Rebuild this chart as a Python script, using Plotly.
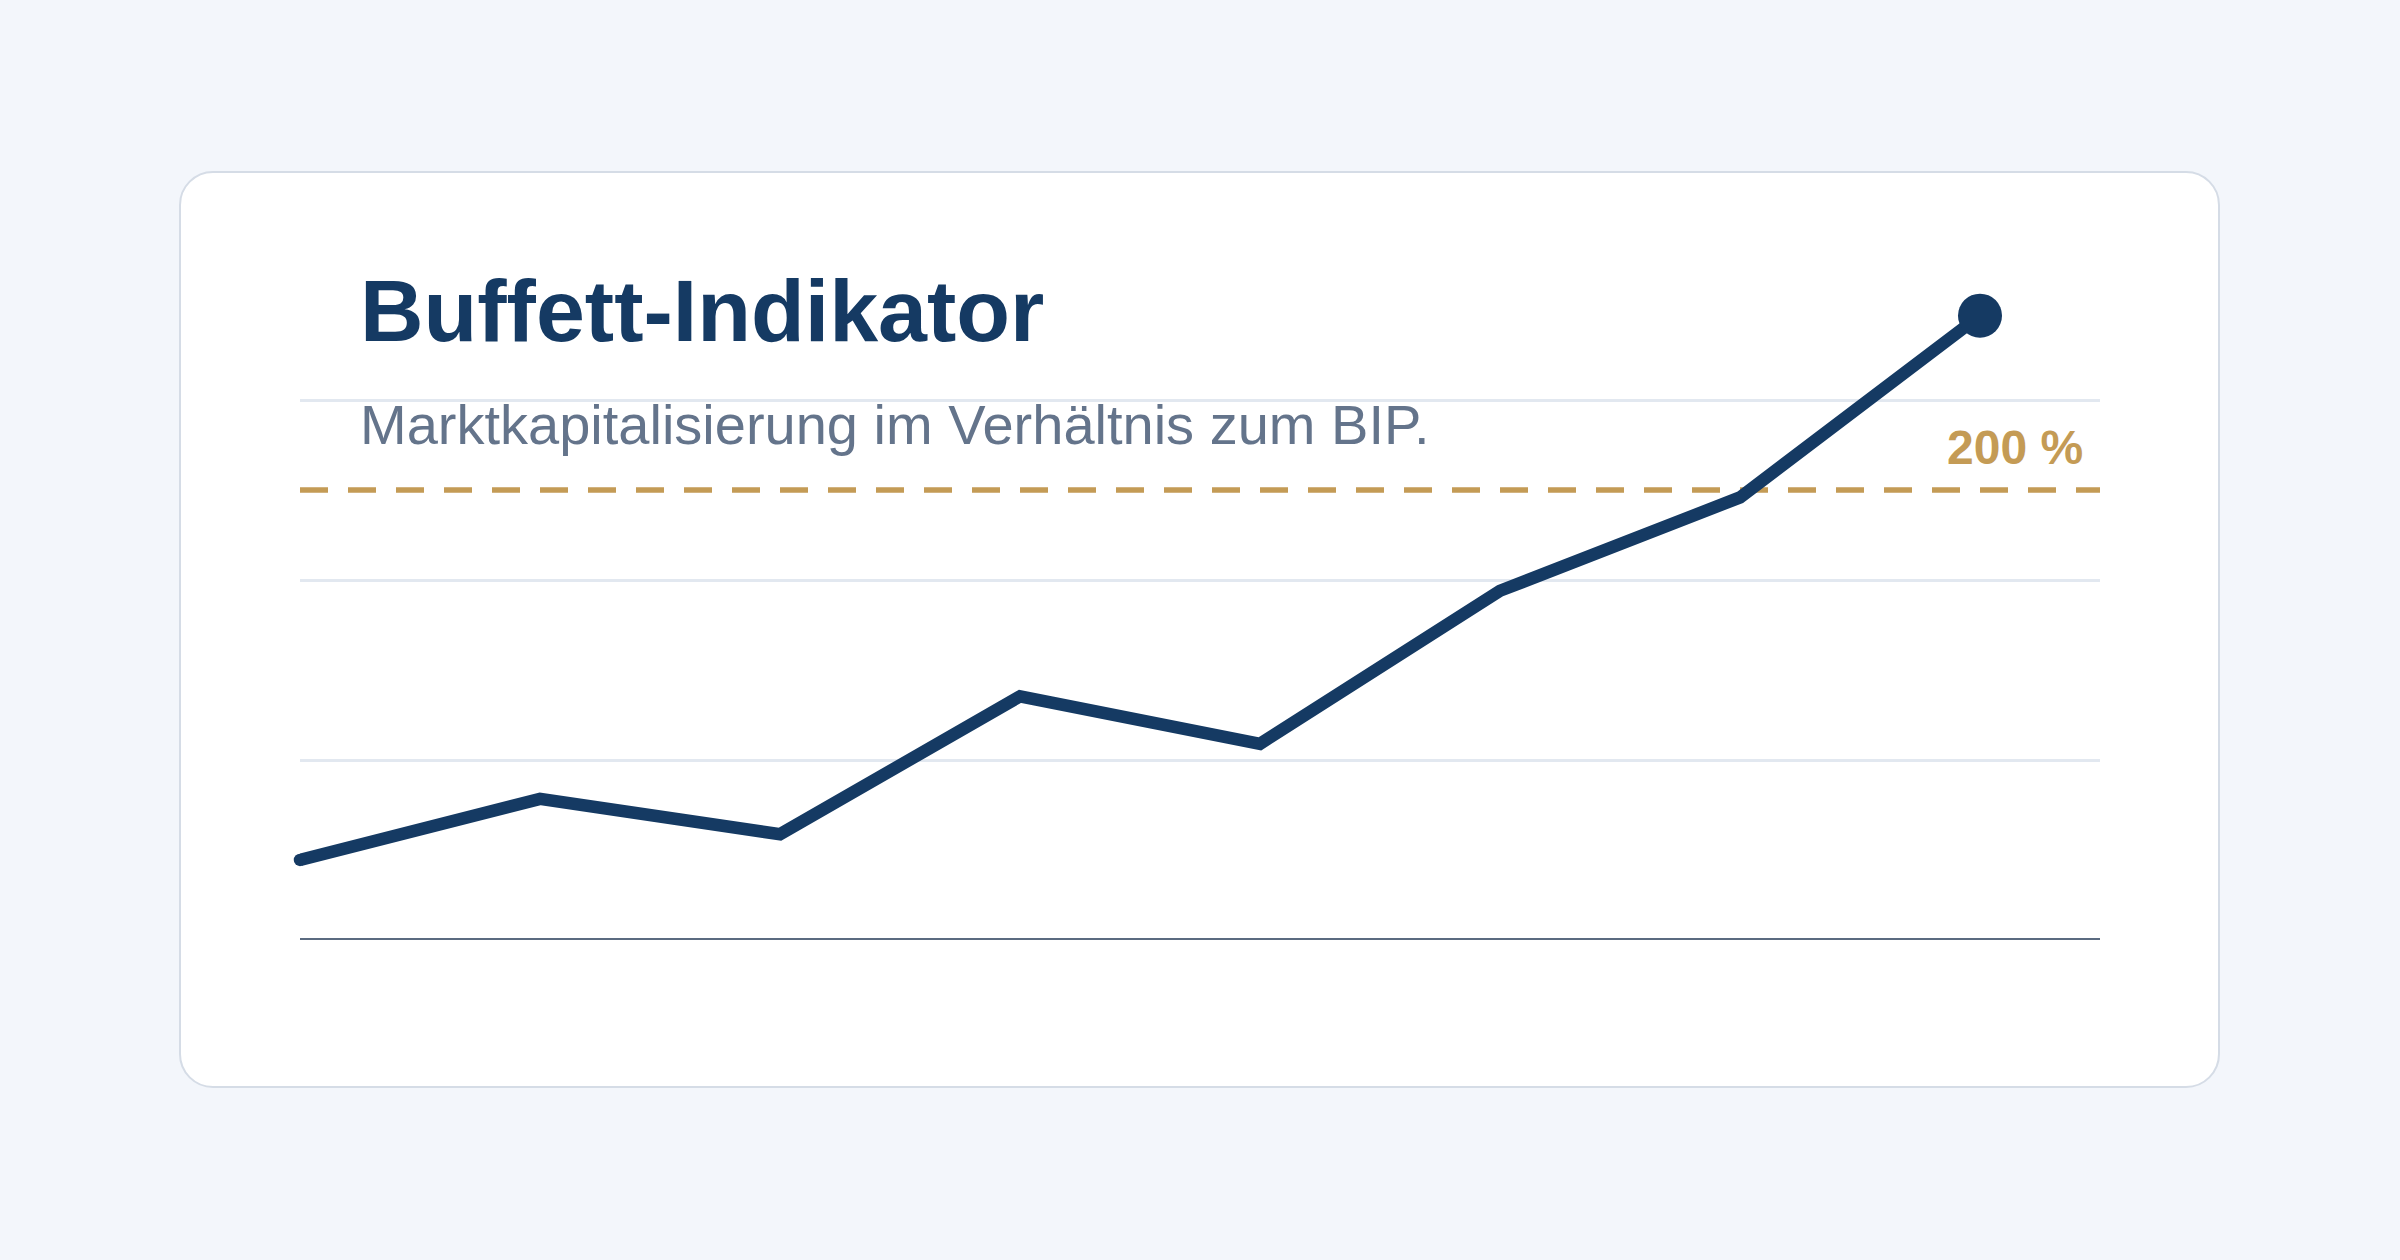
import plotly.graph_objects as go

# ---- data ----
periods = [0, 1, 2, 3, 4, 5, 6, 7]
ratio_pct = [35.6, 62.7, 47.0, 108.3, 87.2, 155.2, 196.7, 277.5]
grid_vals = [80, 160, 240]
threshold = 200
threshold_label = "200 %"
title_text = "Buffett-Indikator"
subtitle_text = "Marktkapitalisierung im Verhältnis zum BIP."

W, H = 2400, 1260
NAVY = "#153A63"
GOLD = "#C49B55"
SLATE = "#64748B"
BASE = "#5B6B80"
GRID = "#E2E8F0"
BG = "#F3F6FB"
FONT = "Liberation Sans, Arial, sans-serif"

def px_x(p):
    return p / W

def px_y(p):
    return 1 - p / H

fig = go.Figure()

LW = 12.5
marker_sizes = [LW] + [0] * (len(periods) - 2) + [44]
fig.add_trace(go.Scatter(
    x=periods, y=ratio_pct, mode="lines+markers",
    line=dict(color=NAVY, width=LW),
    marker=dict(size=marker_sizes, color=NAVY, opacity=1, line=dict(width=0)),
    cliponaxis=False, hoverinfo="skip", showlegend=False,
))

# card (rounded rectangle, cubic-bezier corners)
x0, x1 = px_x(180), px_x(2219)
yt, yb = px_y(172), px_y(1087)
rx, ry = 33 / W, 33 / H
k = 0.5523
cx, cy = rx * (1 - k), ry * (1 - k)
card_path = (
    f"M {x0+rx},{yt} L {x1-rx},{yt} "
    f"C {x1-cx},{yt} {x1},{yt-cy} {x1},{yt-ry} "
    f"L {x1},{yb+ry} "
    f"C {x1},{yb+cy} {x1-cx},{yb} {x1-rx},{yb} "
    f"L {x0+rx},{yb} "
    f"C {x0+cx},{yb} {x0},{yb+cy} {x0},{yb+ry} "
    f"L {x0},{yt-ry} "
    f"C {x0},{yt-cy} {x0+cx},{yt} {x0+rx},{yt} Z"
)
shapes = [
    dict(type="path", path=card_path, xref="paper", yref="paper",
         fillcolor="#FFFFFF", line=dict(color="#D5DCE6", width=2), layer="below"),
    dict(type="line", xref="paper", yref="y", x0=px_x(300), x1=px_x(2100),
         y0=threshold, y1=threshold, line=dict(color=GOLD, width=5.5, dash="28px,20px"),
         layer="below"),
    dict(type="line", xref="paper", yref="y", x0=px_x(300), x1=px_x(2100),
         y0=0, y1=0, line=dict(color=BASE, width=4), layer="below"),
]

annotations = [
    dict(text=f"<b>{title_text}</b>", x=px_x(358), y=px_y(310.5), xref="paper", yref="paper",
         xanchor="left", yanchor="middle", showarrow=False,
         font=dict(family=FONT, size=88, color=NAVY)),
    dict(text=subtitle_text, x=px_x(358), y=px_y(424), xref="paper", yref="paper",
         xanchor="left", yanchor="middle", showarrow=False,
         font=dict(family=FONT, size=56, color=SLATE)),
    dict(text=f"<b>{threshold_label}</b>", x=px_x(2085), y=px_y(447.7), xref="paper", yref="paper",
         xanchor="right", yanchor="middle", showarrow=False,
         font=dict(family=FONT, size=48, color=GOLD)),
]

top_px, base_px = 220, 940
y_top = (base_px - top_px) / 2.25

fig.update_layout(
    width=W, height=H,
    margin=dict(l=0, r=0, t=0, b=0),
    paper_bgcolor=BG, plot_bgcolor="rgba(0,0,0,0)",
    shapes=shapes, annotations=annotations,
    hovermode=False, showlegend=False,
    xaxis=dict(domain=[px_x(300), px_x(2100)], range=[0, 7.5],
               showgrid=False, zeroline=False, showticklabels=False, ticks="",
               showline=False, fixedrange=True),
    yaxis=dict(domain=[px_y(base_px), px_y(top_px)], range=[0, y_top],
               tickvals=grid_vals, showgrid=True, gridcolor=GRID, gridwidth=3,
               zeroline=False, showticklabels=False, ticks="", showline=False,
               fixedrange=True),
)

fig.write_html("out.html", config={"displayModeBar": False, "staticPlot": True})
